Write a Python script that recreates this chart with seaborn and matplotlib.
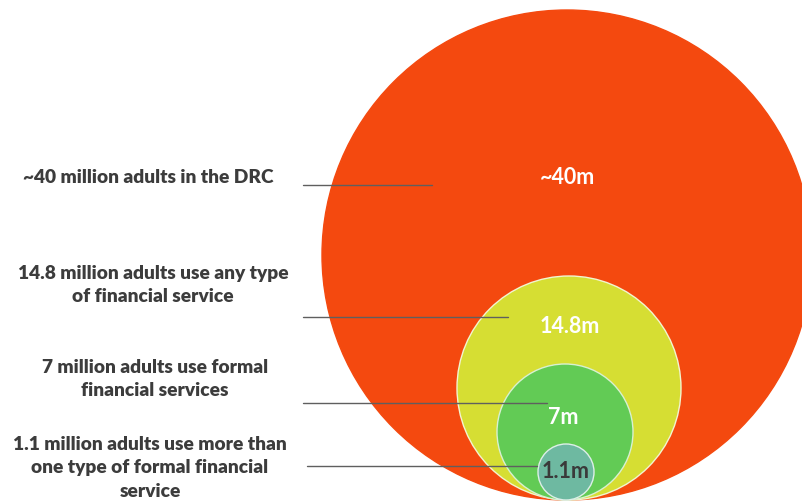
import matplotlib
matplotlib.use("Agg")
import matplotlib.pyplot as plt
from matplotlib.patches import Circle
import seaborn as sns

# Financial inclusion funnel, DRC
descriptions = [
    "~40 million adults in the DRC",
    "14.8 million adults use any type\nof financial service",
    "7 million adults use formal\nfinancial services",
    "1.1 million adults use more than\none type of formal financial\nservice",
]
values_m = [40, 14.8, 7, 1.1]
value_labels = ["~40m", "14.8m", "7m", "1.1m"]

# Layout in pixel units (y grows downward)
circle_radius = [245, 112, 68, 28]
circle_cx = [567, 569, 565, 566]
base_y = 501
circle_colors = ["#F4490F", "#D6DE33", "#62CB55", "#6EB9A1"]
circle_edges = ["#F4490F", "#F2F5D0", "#D8F0D2", "#DDEFE8"]
value_pos = [(568, 178), (570, 327), (563, 418), (566, 472)]
value_colors = ["white", "white", "white", "#3A3A3A"]
text_pos = [(148, 178), (153, 285), (155, 379), (150, 468)]
leader = [(303, 432, 186), (303, 508, 318), (303, 547, 404), (307, 537, 467)]

sns.set_theme(style="white")
plt.rcParams["font.family"] = ["Lato", "DejaVu Sans"]

fig = plt.figure(figsize=(8.03, 5.02), dpi=100)
ax = fig.add_axes([0, 0, 1, 1])
ax.set_xlim(0, 803)
ax.set_ylim(502, 0)
ax.set_axis_off()

for r, cx, fc, ec in zip(circle_radius, circle_cx, circle_colors, circle_edges):
    ax.add_patch(Circle((cx, base_y - r), r, facecolor=fc, edgecolor=ec,
                        linewidth=1.0, zorder=2))

for (x0, x1, y) in leader:
    ax.plot([x0, x1], [y, y], color="#5F5F5F", linewidth=1.0, zorder=3)

for lab, (x, y), c in zip(value_labels, value_pos, value_colors):
    ax.text(x, y, lab, ha="center", va="center", color=c, fontsize=15.5,
            fontweight="bold", zorder=4)

for txt, (x, y) in zip(descriptions, text_pos):
    ax.text(x, y, txt, ha="center", va="center", multialignment="center",
            color="#3C3C3C", fontsize=13.8, fontweight="heavy",
            linespacing=1.45, zorder=4)

fig.savefig("out.png", dpi=100)
